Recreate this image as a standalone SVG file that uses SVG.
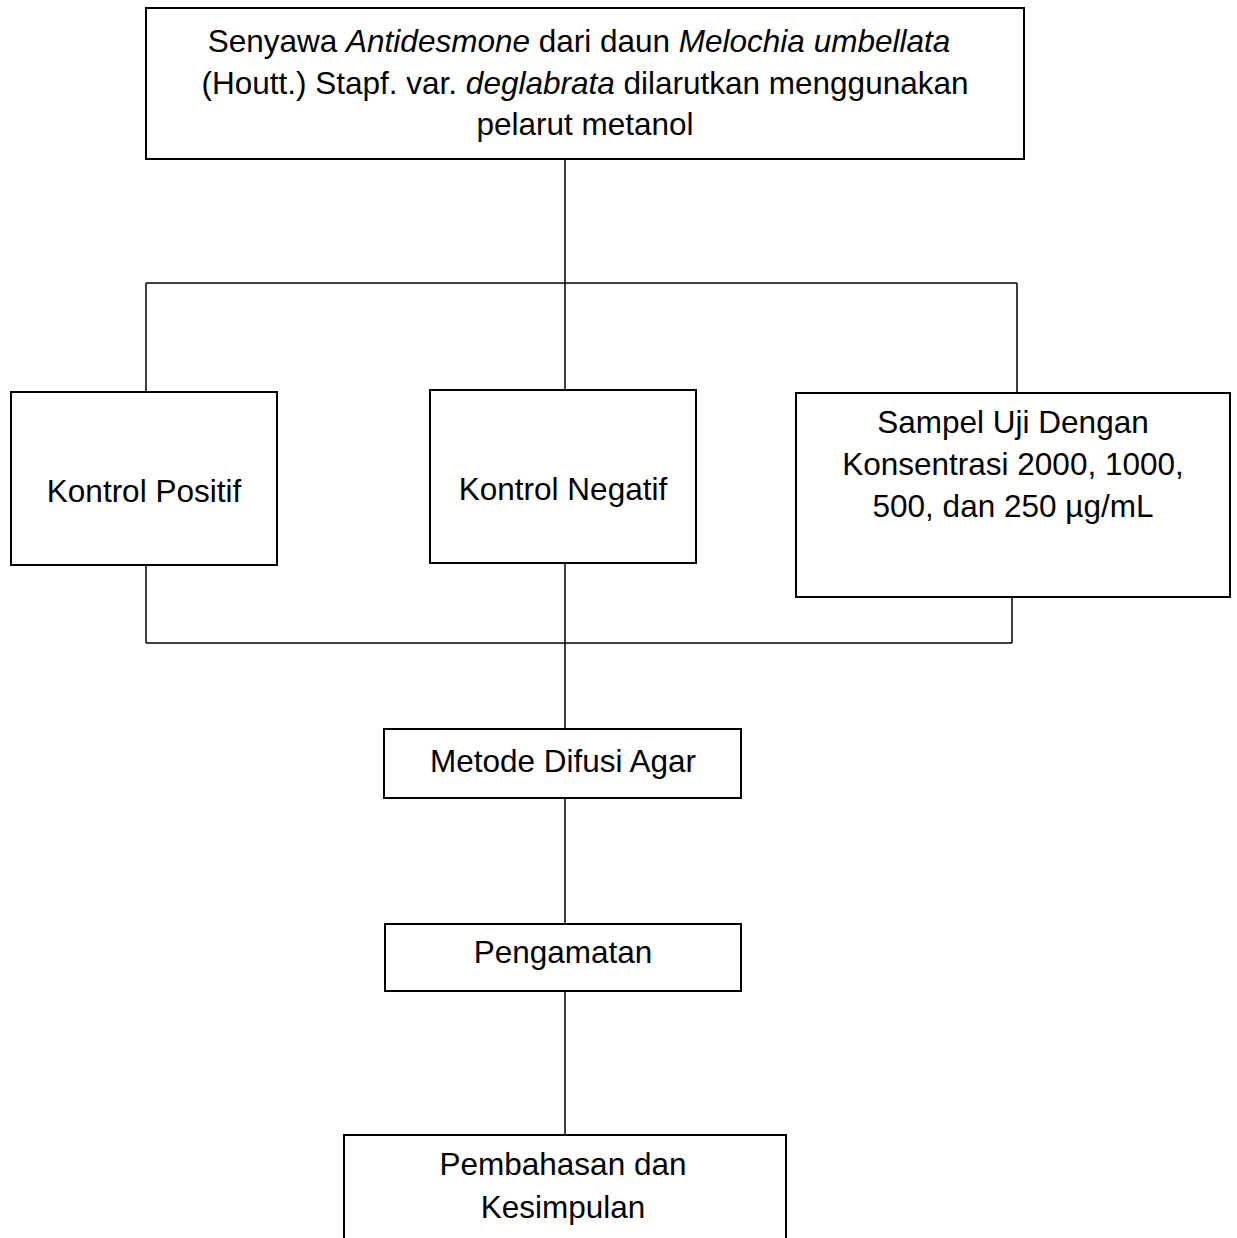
<svg xmlns="http://www.w3.org/2000/svg" width="1237" height="1238" viewBox="0 0 1237 1238">
<style>
.box{fill:#fff;stroke:#000;stroke-width:2}
.ln{fill:none;stroke:#000;stroke-width:1.5}
text{font-family:"Liberation Sans",Arial,sans-serif;font-size:31.5px;fill:#000;text-anchor:middle}
.i{font-style:italic}
</style>
<rect width="1237" height="1238" fill="#fff"/>
<g id="connectors">
<path class="ln" d="M565 159V283M146 283H1017M146 283V392M565 283V390M1017 283V393"/>
<path class="ln" d="M146 565V643M565 563V729M1012 597V643M146 643H1012"/>
<path class="ln" d="M565 798V924M565 991V1135"/>
</g>
<g id="n-top">
<rect class="box" x="146" y="8" width="878" height="151"/>
<text x="579" y="52">Senyawa <tspan class="i">Antidesmone</tspan> dari daun <tspan class="i">Melochia umbellata</tspan></text>
<text x="585" y="94">(Houtt.) Stapf. var. <tspan class="i">deglabrata</tspan> dilarutkan menggunakan</text>
<text x="585" y="135">pelarut metanol</text>
</g>
<g id="n-pos">
<rect class="box" x="11" y="392" width="266" height="173"/>
<text x="144" y="502">Kontrol Positif</text>
</g>
<g id="n-neg">
<rect class="box" x="430" y="390" width="266" height="173"/>
<text x="563" y="500">Kontrol Negatif</text>
</g>
<g id="n-sampel">
<rect class="box" x="796" y="393" width="434" height="204"/>
<text x="1013" y="433">Sampel Uji Dengan</text>
<text x="1013" y="475">Konsentrasi 2000, 1000,</text>
<text x="1013" y="517">500, dan 250 µg/mL</text>
</g>
<g id="n-metode">
<rect class="box" x="384" y="729" width="357" height="69"/>
<text x="563" y="772">Metode Difusi Agar</text>
</g>
<g id="n-pengamatan">
<rect class="box" x="385" y="924" width="356" height="67"/>
<text x="563" y="963">Pengamatan</text>
</g>
<g id="n-pembahasan">
<rect class="box" x="344" y="1135" width="442" height="120"/>
<text x="563" y="1175">Pembahasan dan</text>
<text x="563" y="1218">Kesimpulan</text>
</g>
</svg>
